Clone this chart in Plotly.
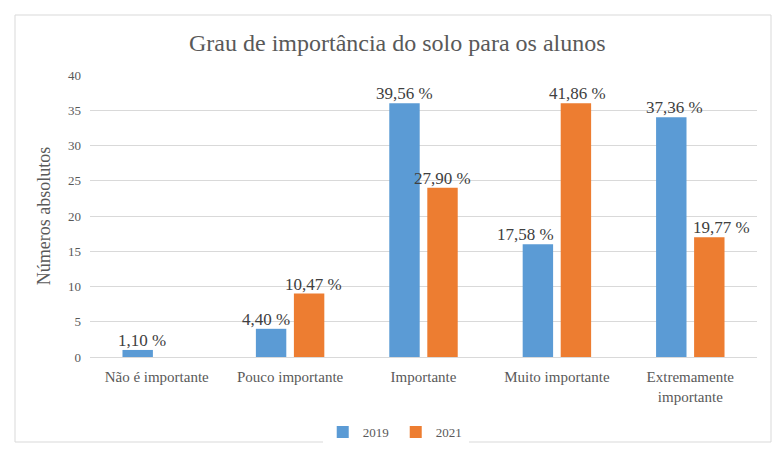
import plotly.graph_objects as go

# Survey answers: how important soil is for the students
categories = ["Não é importante", "Pouco importante", "Importante",
              "Muito importante", "Extremamente<br>importante"]
counts_2019 = [1, 4, 36, 16, 34]
counts_2021 = [0, 9, 24, 36, 17]
labels_2019 = ["1,10 %", "4,40 %", "39,56 %", "17,58 %", "37,36 %"]
labels_2021 = ["", "10,47 %", "27,90 %", "41,86 %", "19,77 %"]
y_ticks = [0, 5, 10, 15, 20, 25, 30, 35, 40]

BLUE = "#5B9BD5"
ORANGE = "#ED7D31"
GREY = "#595959"
SERIF = "Liberation Serif"

fig = go.Figure()
fig.add_trace(go.Bar(name="2019", x=categories, y=counts_2019,
                     marker=dict(color=BLUE, line=dict(width=0))))
fig.add_trace(go.Bar(name="2021", x=categories, y=counts_2021,
                     marker=dict(color=ORANGE, line=dict(width=0))))

# value labels above each bar (pixel nudges keep neighbours apart)
half_step = 19
nudge_2019 = [4, -5, 0, -12, 3]
nudge_2021 = [0, 4, 0, 2, 12]
for series, labels, side, nudges in (
        (counts_2019, labels_2019, -1, nudge_2019),
        (counts_2021, labels_2021, 1, nudge_2021)):
    for cat, val, txt, dx in zip(categories, series, labels, nudges):
        if not txt:
            continue
        fig.add_annotation(x=cat, y=val, xref="x", yref="y", text=txt,
                           showarrow=False, yanchor="bottom",
                           xshift=side * half_step + dx, yshift=-2,
                           font=dict(family=SERIF, size=17, color="#404040"))

# light frame around the whole chart
fig.add_shape(type="rect", xref="paper", yref="paper",
              x0=(15 - 90) / 667, x1=(771 - 90) / 667,
              y0=(357 - 442) / 282, y1=(357 - 15) / 282,
              line=dict(color="#D9D9D9", width=1), fillcolor="rgba(0,0,0,0)",
              layer="below")

fig.update_layout(
    width=779, height=451,
    margin=dict(l=90, r=22, t=75, b=94),
    paper_bgcolor="white", plot_bgcolor="white",
    font=dict(family=SERIF, color=GREY),
    barmode="group", bargap=0.43, bargroupgap=0.2,
    title=dict(text="Grau de importância do solo para os alunos",
               x=0.51, xref="container", xanchor="center",
               y=1 - 43 / 451, yref="container", yanchor="middle",
               font=dict(family=SERIF, size=24, color=GREY)),
    legend=dict(orientation="h", xref="container", x=0.508, xanchor="center",
                yref="container", y=1 - 432 / 451, yanchor="middle",
                font=dict(family=SERIF, size=13, color=GREY),
                itemwidth=30, entrywidth=28, tracegroupgap=0,
                traceorder="normal"),
    showlegend=True,
)
fig.update_xaxes(showgrid=False, showline=True, linecolor="#D9D9D9",
                 linewidth=1, ticks="", ticklabelstandoff=6,
                 tickfont=dict(family=SERIF, size=15, color=GREY))
fig.update_yaxes(range=[0, 40], tickvals=y_ticks, showgrid=True,
                 gridcolor="#D9D9D9", gridwidth=1, zeroline=False,
                 showline=False, ticks="", ticklabelstandoff=8,
                 tickfont=dict(family=SERIF, size=13, color=GREY),
                 title=dict(text="Números absolutos", standoff=12,
                            font=dict(family=SERIF, size=18, color=GREY)))

fig.write_html("out.html")
